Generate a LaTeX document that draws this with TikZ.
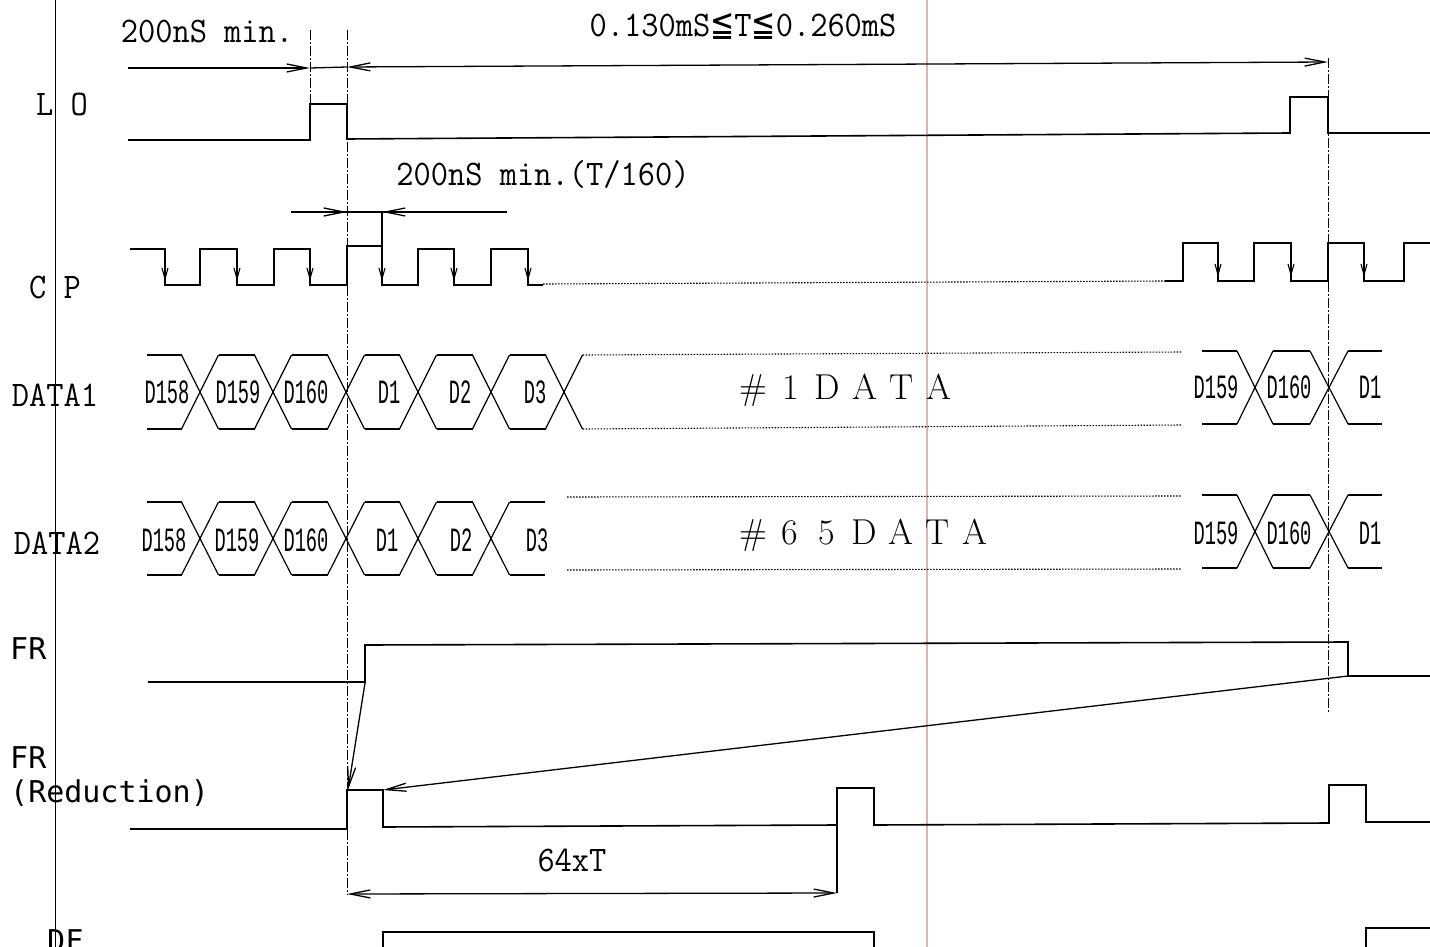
\documentclass[tikz,border=0pt]{standalone}
\usepackage{fontspec}
\usetikzlibrary{arrows.meta}
\newfontfamily\lblfont[FakeStretch=0.93]{Latin Modern Mono}
\newfontfamily\cellfont[FakeStretch=0.55]{Liberation Mono}
\newfontfamily\frfont{DejaVu Sans Mono}
\newfontfamily\mysym[FakeStretch=0.8]{DejaVu Sans}
\newcommand\wb[1]{\makebox[37pt]{#1}}
\begin{document}
\begin{tikzpicture}[x=1pt,y=-1pt,
  sig/.style={line width=1.6pt},
  xsig/.style={line width=1.2pt},
  dim/.style={line width=1.3pt},
  guide/.style={line width=0.9pt, dash pattern=on 10pt off 2pt on 2pt off 2pt},
  dots/.style={line width=1.1pt, dash pattern=on 1.5pt off 1.5pt},
  redline/.style={line width=1.2pt, draw={rgb,255:red,226;green,178;blue,172}},
  >={Straight Barb[length=20pt,width=8pt]},
  edgearr/.style={line width=1.1pt, -{Straight Barb[length=11pt,width=6pt]}},
  lbl/.style={font=\lblfont\fontsize{36}{38}\selectfont, inner sep=0pt},
  cell/.style={font=\cellfont\fontsize{34}{36}\selectfont, inner sep=0pt},
  big/.style={font=\fontsize{36}{38}\selectfont, inner sep=0pt},
  frl/.style={font=\frfont\fontsize{30}{32}\selectfont, inner sep=0pt, anchor=west}]
\path[use as bounding box] (0,0) rectangle (1430,947);
\clip (0,0) rectangle (1430,947);

% frame and scan line
\draw[line width=1pt] (55,0) -- (55,947);
\draw[redline] (927,0) -- (927,947);

% guides
\draw[guide] (310,30) -- (310,104);
\draw[guide] (347,30) -- (347,895);
\draw[guide] (1328,58) -- (1328,713);

% texts
\node[lbl] (t200a) at (207,32) {200nS min.};
\node[lbl] (tT) at (743,27) {0.130mS{\mysym ≦}T{\mysym ≦}0.260mS};
\node[lbl] (t200b) at (543,175) {200nS min.(T/160)};
\node[lbl] (lLO) at (62,105) {L O};
\node[lbl] (lCP) at (55,288) {C P};
\node[lbl] (lD1) at (55,395) {DATA1};
\node[lbl] (lD2) at (57,543) {DATA2};
\node[frl] (lFR) at (10,649) {FR};
\node[frl] (lFRr) at (10,758) {FR};
\node[frl] (lRed) at (10,793) {(Reduction)};
\node[frl] (lDF) at (47,941) {DF};
\node[lbl] (t64) at (572,860) {64xT};
\node[big] (d1) at (846,390) {\wb{\#}\wb{1}\wb{D}\wb{A}\wb{T}\wb{A}};
\node[big] (d65) at (864,535) {\wb{\#}\wb{6}\wb{5}\wb{D}\wb{A}\wb{T}\wb{A}};

% LO
\draw[sig] (128,140) -- (310,140) -- (310,104) -- (347,104) -- (347,139) -- (1290,133) -- (1290,97) -- (1328,97) -- (1328,133) -- (1430,133);
\draw[dim,->] (128,68) -- (310,68);
\draw[dim] (310,68) -- (347,67);
\draw[dim,<->] (347,67) -- (1328,62);

% CP
\draw[dim] (291,212) -- (507,212);
\draw[dim,->] (291,212) -- (347,212);
\draw[dim,->] (507,212) -- (382,212);
\draw[sig] (382,212) -- (382,246);
\draw[sig] (130,249) -- (165,249) -- (165,285) -- (200,285) -- (200,249) -- (237,249) -- (237,285) -- (274,285) -- (274,249) -- (310,249) -- (310,285) -- (347,285) -- (347,246) -- (382,246) -- (382,285) -- (418,285) -- (418,249) -- (454,249) -- (454,285) -- (491,285) -- (491,249) -- (528,249) -- (528,285) -- (543,285);
\draw[dots] (543,284) -- (1165,281);
\draw[sig] (1165,281) -- (1183,281) -- (1183,243) -- (1218,243) -- (1218,281) -- (1254,281) -- (1254,243) -- (1291,243) -- (1291,281) -- (1328,281) -- (1328,243) -- (1364,243) -- (1364,281) -- (1404,281) -- (1404,243) -- (1430,243);
\foreach \x in {165,237,310,382,454,528} \draw[edgearr] (\x,255) -- (\x,281);
\foreach \x in {1218,1291,1364} \draw[edgearr] (\x,249) -- (\x,277);

% DATA1 left
\draw[sig] (147,355) -- (181.5,355) (147,429) -- (181.5,429);
\foreach \c in {200,273,346,418,491,564}
  \draw[xsig] (\c-18.5,355) -- (\c+18.5,429) (\c-18.5,429) -- (\c+18.5,355);
\foreach \a/\b in {200/273,273/346,346/418,418/491,491/564}
  \draw[sig] (\a+18.5,355) -- (\b-18.5,355) (\a+18.5,429) -- (\b-18.5,429);
\draw[dots] (582.5,355) -- (1182,352) (582.5,429) -- (1182,425);
\foreach \x/\t in {167/D158,238/D159,306/D160,389/D1,460/D2,535/D3}
  \node[cell] (a\t) at (\x,392) {\t};

% DATA2 left
\draw[sig] (147,502) -- (181.5,502) (147,575) -- (181.5,575);
\foreach \c in {200,273,346,418,491}
  \draw[xsig] (\c-18.5,502) -- (\c+18.5,575) (\c-18.5,575) -- (\c+18.5,502);
\foreach \a/\b in {200/273,273/346,346/418,418/491}
  \draw[sig] (\a+18.5,502) -- (\b-18.5,502) (\a+18.5,575) -- (\b-18.5,575);
\draw[sig] (509.5,502) -- (545,502) (509.5,575) -- (545,575);
\draw[dots] (567,497) -- (1182,496) (567,570) -- (1182,569);
\foreach \x/\t in {164/D158,237/D159,306/D160,387/D1,461/D2,537/D3}
  \node[cell] (b\t) at (\x,540) {\t};

% DATA1 right
\draw[sig] (1202,351) -- (1237,351) (1202,424) -- (1237,424);
\draw[xsig] (1237,351) -- (1273,424) (1237,424) -- (1273,351);
\draw[sig] (1273,351) -- (1310,351) (1273,424) -- (1310,424);
\draw[xsig] (1310,351) -- (1348,424) (1310,424) -- (1348,351);
\draw[sig] (1348,351) -- (1382,351) (1348,424) -- (1382,424);
\node[cell] (cD159) at (1216,387) {D159};
\node[cell] (cD160) at (1289,387) {D160};
\node[cell] (cD1) at (1370,387) {D1};

% DATA2 right
\draw[sig] (1202,495) -- (1237,495) (1202,568) -- (1237,568);
\draw[xsig] (1237,495) -- (1273,568) (1237,568) -- (1273,495);
\draw[sig] (1273,495) -- (1310,495) (1273,568) -- (1310,568);
\draw[xsig] (1310,495) -- (1348,568) (1310,568) -- (1348,495);
\draw[sig] (1348,495) -- (1382,495) (1348,568) -- (1382,568);
\node[cell] (eD159) at (1216,533) {D159};
\node[cell] (eD160) at (1289,533) {D160};
\node[cell] (eD1) at (1370,533) {D1};

% FR
\draw[sig] (148,682) -- (365,682) -- (365,645) -- (1348,642) -- (1348,676) -- (1430,676);
\draw[dim,->] (365,683) -- (348,790);
\draw[dim,->] (1348,676) -- (383,790);

% FR (Reduction)
\draw[sig] (130,829) -- (347,829) -- (347,790) -- (383,790) -- (383,827) -- (837,825) -- (837,788) -- (874,788) -- (874,825) -- (1329,823) -- (1329,785) -- (1366,785) -- (1366,822) -- (1430,822);
\draw[dim] (837,825) -- (837,893);
\draw[dim,<->] (347,894) -- (837,893);

% DF
\draw[sig] (383,960) -- (383,932) -- (874,932) -- (874,960);
\draw[sig] (1366,960) -- (1366,928) -- (1430,928);
\end{tikzpicture}
\end{document}
